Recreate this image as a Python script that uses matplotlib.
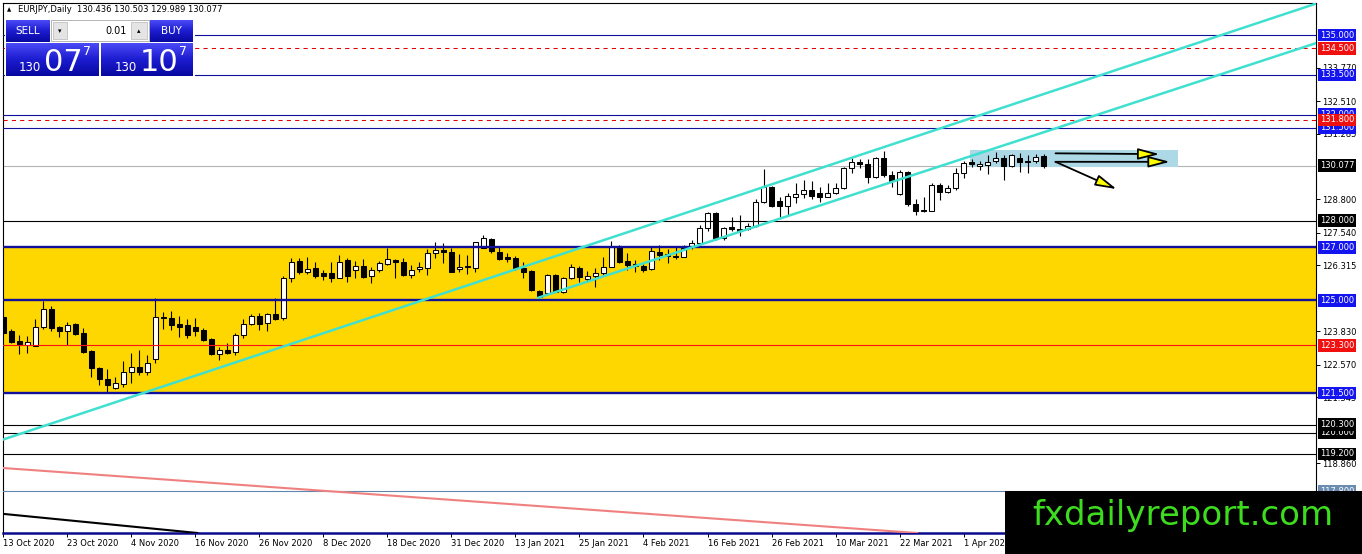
import numpy as np
import matplotlib
matplotlib.use("Agg")
import matplotlib.pyplot as plt
import matplotlib.transforms as mtransforms
from matplotlib.colors import LinearSegmentedColormap
from matplotlib.patches import Rectangle, FancyArrowPatch

plt.rcParams["font.family"] = ["DejaVu Sans"]

# ── EURJPY daily candles ──────────────────────────────────────────────────────
opens = [
    124.35, 123.82, 123.46, 123.32, 123.27, 124.00, 124.68, 123.98, 123.83, 124.10,
    123.76, 123.09, 122.44, 122.02, 121.68, 121.84, 122.31, 122.47, 122.31, 122.77,
    124.38, 124.32, 124.09, 124.07, 123.98, 123.88, 123.55, 122.98, 123.12, 123.06,
    123.68, 124.09, 124.40, 124.13, 124.47, 124.32, 125.83, 126.48, 126.05, 126.23,
    126.01, 126.01, 125.83, 126.50, 126.14, 126.29, 125.90, 126.13, 126.38, 126.53,
    126.45, 125.95, 126.16, 126.20, 126.77, 126.89, 126.83, 126.16, 126.26, 126.23,
    126.98, 127.31, 126.83, 126.64, 126.60, 126.23, 126.10, 125.36, 125.26, 125.95,
    125.32, 125.83, 126.20, 125.81, 125.91, 126.01, 126.26, 127.04, 126.49, 126.36,
    126.29, 126.16, 126.83, 126.74, 126.68, 126.64, 127.00, 127.15, 127.71, 128.28,
    127.33, 127.75, 127.68, 127.67, 127.80, 128.71, 129.26, 128.75, 128.56, 128.90,
    129.00, 129.16, 129.05, 128.90, 129.03, 129.22, 129.97, 130.22, 130.14, 129.63,
    130.35, 129.72, 129.00, 129.85, 128.63, 128.40, 128.37, 129.34, 129.09, 129.22,
    129.81, 130.22, 130.06, 130.10, 130.26, 130.35, 130.06, 130.35, 130.25, 130.26,
    130.436]
highs = [
    124.40, 123.91, 123.69, 123.65, 124.28, 124.98, 124.78, 124.03, 124.18, 124.13,
    123.95, 123.12, 122.49, 122.40, 122.12, 122.71, 123.00, 123.12, 122.93, 125.07,
    124.57, 124.59, 124.40, 124.28, 124.34, 123.95, 123.56, 123.25, 123.40, 123.75,
    124.28, 124.48, 124.50, 124.50, 125.07, 125.91, 126.58, 126.58, 126.63, 126.43,
    126.14, 126.45, 126.70, 126.58, 126.48, 126.55, 126.26, 126.48, 126.96, 126.55,
    126.58, 126.33, 126.43, 126.93, 127.21, 127.14, 126.98, 126.73, 126.70, 127.21,
    127.46, 127.36, 127.02, 126.77, 126.68, 126.45, 126.14, 125.39, 125.98, 125.98,
    125.89, 126.37, 126.29, 126.10, 126.20, 126.62, 127.24, 127.08, 126.79, 126.52,
    126.36, 127.04, 127.08, 126.92, 127.04, 127.08, 127.27, 127.84, 128.34, 128.34,
    127.77, 128.13, 128.21, 127.92, 128.80, 129.94, 129.31, 128.88, 129.05, 129.41,
    129.53, 129.51, 129.28, 129.43, 129.41, 130.03, 130.35, 130.31, 130.31, 130.39,
    130.64, 129.88, 129.91, 129.88, 128.80, 128.88, 129.41, 129.43, 129.34, 129.97,
    130.26, 130.31, 130.26, 130.48, 130.60, 130.48, 130.51, 130.54, 130.48, 130.51,
    130.503]
lows = [
    123.73, 123.38, 122.96, 123.02, 123.27, 123.91, 123.85, 123.60, 123.32, 123.69,
    123.00, 122.12, 121.80, 121.55, 121.64, 121.74, 121.89, 122.18, 122.18, 122.64,
    123.91, 123.88, 123.62, 123.56, 123.65, 123.47, 122.95, 122.75, 122.97, 122.93,
    123.56, 124.07, 123.88, 123.82, 124.25, 124.25, 125.70, 125.98, 125.98, 125.85,
    125.76, 125.70, 125.83, 125.70, 125.85, 125.85, 125.64, 126.05, 126.33, 125.85,
    125.92, 125.85, 126.07, 125.95, 126.60, 126.39, 126.05, 126.05, 125.98, 126.05,
    126.96, 126.77, 126.52, 126.45, 126.14, 125.83, 125.35, 125.09, 125.20, 125.30,
    125.26, 125.80, 125.70, 125.70, 125.51, 125.95, 126.24, 126.41, 126.14, 126.07,
    126.05, 126.14, 126.52, 126.39, 126.54, 126.62, 126.92, 127.12, 127.62, 127.27,
    127.27, 127.62, 127.42, 127.65, 127.77, 128.68, 128.53, 128.15, 128.21, 128.68,
    128.84, 128.80, 128.71, 128.88, 129.00, 129.18, 129.78, 129.97, 129.43, 129.60,
    129.66, 129.28, 128.97, 128.56, 128.21, 128.34, 128.36, 128.78, 129.05, 129.16,
    129.60, 130.03, 129.91, 129.76, 130.18, 129.53, 130.03, 129.85, 129.79, 130.18,
    129.989]
closes = [
    123.76, 123.44, 123.35, 123.41, 124.00, 124.66, 123.95, 123.82, 124.08, 123.73,
    123.06, 122.43, 122.02, 121.81, 121.87, 122.31, 122.47, 122.31, 122.64, 124.38,
    124.32, 124.07, 124.00, 123.69, 123.85, 123.50, 122.97, 123.11, 123.02, 123.68,
    124.09, 124.40, 124.10, 124.47, 124.28, 125.83, 126.44, 126.05, 126.18, 125.92,
    125.92, 125.83, 126.45, 125.92, 126.29, 125.89, 126.13, 126.39, 126.55, 126.45,
    125.95, 126.14, 126.24, 126.77, 126.89, 126.83, 126.07, 126.24, 126.29, 127.18,
    127.33, 126.85, 126.55, 126.55, 126.20, 126.07, 125.39, 125.13, 125.95, 125.32,
    125.83, 126.24, 125.86, 125.91, 126.01, 126.26, 127.02, 126.45, 126.33, 126.29,
    126.14, 126.87, 126.70, 126.68, 126.62, 126.96, 127.15, 127.71, 128.28, 127.33,
    127.71, 127.67, 127.62, 127.80, 128.71, 129.26, 128.55, 128.56, 128.93, 129.00,
    129.16, 128.94, 128.90, 129.05, 129.22, 129.97, 130.22, 130.14, 129.63, 130.35,
    129.72, 129.51, 129.85, 128.63, 128.37, 128.37, 129.34, 129.09, 129.22, 129.81,
    130.18, 130.14, 130.14, 130.22, 130.35, 130.06, 130.48, 130.22, 130.21, 130.41,
    130.077]

date_ticks = [0, 8, 16, 24, 32, 40, 48, 56, 64, 72, 80, 88, 96, 104, 112, 120]
date_labels = ["13 Oct 2020", "23 Oct 2020", "4 Nov 2020", "16 Nov 2020",
               "26 Nov 2020", "8 Dec 2020", "18 Dec 2020", "31 Dec 2020",
               "13 Jan 2021", "25 Jan 2021", "4 Feb 2021", "16 Feb 2021",
               "26 Feb 2021", "10 Mar 2021", "22 Mar 2021", "1 Apr 2021"]
price_ticks = [118.860, 121.345, 122.570, 123.830, 126.315, 127.540,
               128.800, 131.285, 132.510, 133.770]

# ── drawn objects ─────────────────────────────────────────────────────────────
support_zone = (121.5, 127.0)
blue_levels = [132.0, 131.5, 135.0, 133.5, 127.0, 125.0, 121.5]
thick_levels = [127.0, 125.0, 121.5]
red_dashed_levels = [134.5, 131.8]
red_levels = [123.3]
black_levels = [128.0, 120.0, 120.3, 119.2]
steel_levels = [117.8]
last_price = 130.077

trend_long = [(0, 119.75), (164, 136.18)]
trend_short = [(66.7, 125.08), (164.1, 134.70)]
pink_line = [(0, 118.67), (114.2, 116.22)]
black_line = [(0, 116.94), (22.9, 116.26)]
range_box = (120.8, 146.8, 130.02, 130.66)   # x0, x1, y0, y1
arrows = [((131.5, 130.54), (144.5, 130.51)),
          ((131.5, 130.22), (145.8, 130.22)),
          ((131.5, 130.22), (139.15, 129.19))]

# ── figure ────────────────────────────────────────────────────────────────────
W, H = 1362, 554
L, R, T, B = 3, 1316, 3, 533
fig = plt.figure(figsize=(W / 100, H / 100), dpi=100)
ax = fig.add_axes([L / W, (H - B) / H, (R - L) / W, (B - T) / H])

NAVY = "#10109a"
ax.axhspan(*support_zone, color="#ffd700", lw=0, zorder=0.5)
ax.axhline(last_price, color="#b4b4b4", lw=0.8, zorder=0.8)
x0, x1, y0, y1 = range_box
ax.add_patch(Rectangle((x0, y0), x1 - x0, y1 - y0, fc="#add8e6", ec="none", zorder=1))

# candles
o, hi, lo, c = (np.array(v) for v in (opens, highs, lows, closes))
x = np.arange(len(o))
up = c >= o
ax.vlines(x, lo, hi, color="black", lw=0.8, zorder=3)
body = np.maximum(np.abs(c - o), 0.02)
base = np.minimum(o, c)
ax.bar(x[up], body[up], bottom=base[up], width=0.55, color="white",
       edgecolor="black", lw=0.75, zorder=4)
ax.bar(x[~up], body[~up], bottom=base[~up], width=0.55, color="black",
       edgecolor="black", lw=0.75, zorder=4)

# horizontal levels
for v in blue_levels:
    ax.axhline(v, color=NAVY, lw=1.7 if v in thick_levels else 0.8, zorder=5)
for v in red_dashed_levels:
    ax.axhline(v, color="#e00000", lw=0.75, dashes=(4, 4), zorder=5)
for v in red_levels:
    ax.axhline(v, color="#ff1010", lw=0.8, zorder=5)
for v in black_levels:
    ax.axhline(v, color="black", lw=0.8, zorder=5)
for v in steel_levels:
    ax.axhline(v, color="#5f86b0", lw=0.8, zorder=5)

# trend lines
ax.axline(*trend_long, color="#40e0d0", lw=1.8, zorder=6)
ax.plot(*zip(*trend_short), color="#40e0d0", lw=1.8, zorder=6, solid_capstyle="butt")
ax.axline(*pink_line, color="#f08080", lw=1.5, zorder=6)
ax.axline(*black_line, color="black", lw=1.5, zorder=6)

for start, end in arrows:
    ax.add_patch(FancyArrowPatch(start, end, arrowstyle="-|>,head_length=13,head_width=3.4",
                                 mutation_scale=1, fc="#ffff00", ec="black", lw=1.3,
                                 shrinkA=0, shrinkB=0, zorder=7))

ax.set_xlim(-0.06, 164.06)
ax.set_ylim(116.22, 136.21)

# axes styling
for side in ("left", "top", "right"):
    ax.spines[side].set_color("black")
    ax.spines[side].set_linewidth(0.8)
ax.spines["bottom"].set_color("#0a0a8c")
ax.spines["bottom"].set_linewidth(1.8)
ax.yaxis.tick_right()
ax.set_yticks(price_ticks)
ax.set_yticklabels([f"{v:.3f}" for v in price_ticks])
ax.set_xticks(date_ticks)
ax.set_xticklabels(date_labels, ha="left")
ax.tick_params(axis="y", length=3, width=0.7, pad=1.5, labelsize=6)
ax.tick_params(axis="x", length=3, width=0.7, pad=1.5, labelsize=6)

# price labels on the right scale
lab_tf = mtransforms.blended_transform_factory(fig.transFigure, ax.transData)


def level_label(v, fc):
    ax.text(1320 / W, v, f"{v:.3f}", transform=lab_tf, ha="left", va="center",
            fontsize=6, color="white", zorder=10, clip_on=False,
            bbox=dict(boxstyle="square,pad=0.22", fc=fc, ec="none"))


for v in blue_levels:
    level_label(v, "#1414f0")
for v in red_dashed_levels + red_levels:
    level_label(v, "#f01010")
level_label(last_price, "black")
for v in black_levels:
    level_label(v, "black")
for v in steel_levels:
    level_label(v, "#6a8cb0")

# ── overlay: header, trading panel, watermark (pixel coordinates) ────────────
ov = fig.add_axes([0, 0, 1, 1])
ov.set_axis_off()
ov.patch.set_visible(False)
ov.set_zorder(5)

ov.text(9, 10, "▲", fontsize=4, va="center", ha="center")
ov.text(18, 10, f"EURJPY,Daily  {opens[-1]:.3f} {highs[-1]:.3f} {lows[-1]:.3f} {closes[-1]:.3f}",
        fontsize=6, va="center", ha="left")

ov.add_patch(Rectangle((5, 19), 190, 59, fc="white", ec="none", zorder=1))
btn = LinearSegmentedColormap.from_list("btn", ["#4a4af6", "#1c1cd0", "#0808a0"])
grad = np.linspace(0, 1, 64).reshape(-1, 1)


def blue_box(bx0, by0, bx1, by1):
    ov.imshow(grad, cmap=btn, extent=(bx0, bx1, by1, by0), aspect="auto",
              interpolation="bilinear", zorder=2)


blue_box(6, 20, 50, 42)
blue_box(150, 20, 193, 42)
blue_box(6, 43, 99, 76)
blue_box(101, 43, 193, 76)
ov.text(28, 31, "SELL", color="white", fontsize=7.5, ha="center", va="center", zorder=3)
ov.text(171, 31, "BUY", color="white", fontsize=7.5, ha="center", va="center", zorder=3)

# lot size control
ov.add_patch(Rectangle((51, 20), 98, 21, fc="white", ec="#a8a8a8", lw=0.6, zorder=2))
ov.add_patch(Rectangle((53, 22), 14, 17, fc="#e4e4e4", ec="#b8b8b8", lw=0.5, zorder=3))
ov.add_patch(Rectangle((131, 22), 16, 17, fc="#e4e4e4", ec="#b8b8b8", lw=0.5, zorder=3))
ov.text(60, 31, "▾", fontsize=5, ha="center", va="center", zorder=4)
ov.text(139, 31, "▴", fontsize=5, ha="center", va="center", zorder=4)
ov.text(127, 31, "0.01", fontsize=7, ha="right", va="center", zorder=4)

for cx, big in ((30, "07"), (126, "10")):
    ov.text(cx, 71, "130", color="white", fontsize=8.5, ha="center", va="baseline", zorder=3)
    ov.text(cx + 33, 71, big, color="white", fontsize=22, ha="center", va="baseline", zorder=3)
    ov.text(cx + 57, 55, "7", color="white", fontsize=9, ha="center", va="baseline", zorder=3)

# watermark
ov.add_patch(Rectangle((1005, 491), W - 1005, H - 491, fc="black", ec="none", zorder=8))
ov.text(1183, 525, "fxdailyreport.com", color="#3ddc1e", fontsize=24.5,
        ha="center", va="baseline", zorder=9)

ov.set_xlim(0, W)
ov.set_ylim(H, 0)

fig.savefig("out.png", dpi=100)
